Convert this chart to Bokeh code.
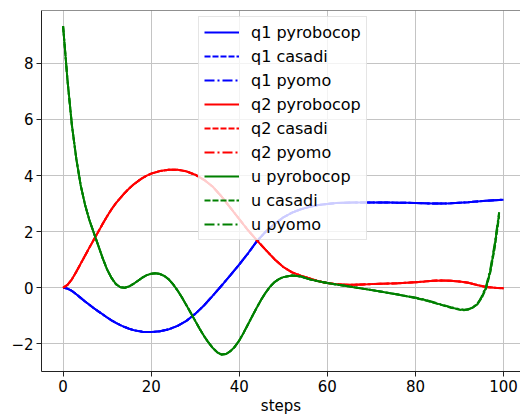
from bokeh.plotting import figure
from bokeh.models import Legend, LegendItem, FixedTicker, Span, Range1d
from bokeh.embed import file_html
from bokeh.resources import INLINE

# ---- data ----
steps_q = list(range(0, 21)) + list(range(22, 101, 2))
steps_u = list(range(0, 51)) + list(range(52, 91, 2)) + list(range(91, 100))

q1_pyrobocop = [0, -0.03, -0.11, -0.23, -0.36, -0.49, -0.61, -0.73, -0.84, -0.95, -1.06,
                -1.16, -1.25, -1.33, -1.40, -1.46, -1.51, -1.54, -1.57, -1.58, -1.58,
                -1.55, -1.48, -1.36, -1.18, -0.93, -0.63, -0.28, 0.08, 0.45, 0.83,
                1.23, 1.66, 2.0, 2.27, 2.51, 2.68, 2.8, 2.89, 2.95, 2.99,
                3.02, 3.03, 3.04, 3.04, 3.04, 3.04, 3.04, 3.03, 3.03, 3.02,
                3.01, 3.0, 3.0, 3.01, 3.03, 3.05, 3.08, 3.1, 3.12, 3.14]
q1_casadi = list(q1_pyrobocop)
q1_pyomo = list(q1_pyrobocop)

q2_pyrobocop = [0, 0.1, 0.3, 0.57, 0.86, 1.15, 1.44, 1.72, 2.0, 2.28, 2.55,
                2.8, 3.02, 3.2, 3.38, 3.54, 3.68, 3.8, 3.91, 4.0, 4.07,
                4.16, 4.21, 4.21, 4.15, 4.03, 3.85, 3.6, 3.25, 2.85, 2.45,
                2.05, 1.69, 1.35, 1.02, 0.74, 0.55, 0.43, 0.33, 0.23, 0.17,
                0.13, 0.11, 0.11, 0.12, 0.13, 0.14, 0.15, 0.16, 0.18, 0.2,
                0.22, 0.25, 0.26, 0.25, 0.22, 0.18, 0.1, 0.03, 0.0, -0.02]
q2_casadi = list(q2_pyrobocop)
q2_pyomo = list(q2_pyrobocop)

u_pyrobocop = [9.33, 7.4, 5.8, 4.6, 3.65, 2.95, 2.4, 1.95, 1.5, 1.05, 0.65,
               0.35, 0.13, 0.02, 0.0, 0.05, 0.14, 0.25, 0.36, 0.45, 0.5,
               0.52, 0.49, 0.42, 0.3, 0.12, -0.1, -0.35, -0.62, -0.9, -1.18,
               -1.46, -1.72, -1.95, -2.15, -2.3, -2.38, -2.36, -2.26, -2.1, -1.88,
               -1.6, -1.3, -1.0, -0.7, -0.42, -0.17, 0.04, 0.2, 0.31, 0.38,
               0.44, 0.4, 0.3, 0.23, 0.17,
               0.12, 0.07, 0.02, -0.03, -0.08, -0.13, -0.19, -0.24, -0.3, -0.36,
               -0.43, -0.52, -0.61, -0.7, -0.77,
               -0.79, -0.77, -0.7, -0.6, -0.35, 0.0, 0.6, 1.5, 2.65]
u_casadi = [9.33, 7.4, 5.8, 4.6, 3.65, 2.95, 2.4, 1.95, 1.5, 1.05, 0.65,
            0.35, 0.13, 0.02, 0.0, 0.05, 0.14, 0.25, 0.36, 0.45, 0.5,
            0.52, 0.49, 0.42, 0.3, 0.12, -0.1, -0.35, -0.62, -0.9, -1.18,
            -1.46, -1.72, -1.95, -2.15, -2.3, -2.38, -2.36, -2.26, -2.1, -1.88,
            -1.6, -1.3, -1.0, -0.7, -0.42, -0.17, 0.04, 0.2, 0.31, 0.38,
            0.44, 0.4, 0.3, 0.23, 0.17,
            0.12, 0.07, 0.02, -0.03, -0.08, -0.13, -0.19, -0.24, -0.3, -0.37,
            -0.44, -0.53, -0.62, -0.71, -0.78,
            -0.8, -0.76, -0.71, -0.57, -0.38, -0.04, 0.55, 1.42, 2.55]
u_pyomo = [9.33, 7.4, 5.8, 4.6, 3.65, 2.95, 2.4, 1.95, 1.5, 1.05, 0.65,
           0.35, 0.13, 0.02, 0.0, 0.05, 0.14, 0.25, 0.36, 0.45, 0.5,
           0.52, 0.49, 0.42, 0.3, 0.12, -0.1, -0.35, -0.62, -0.9, -1.18,
           -1.46, -1.72, -1.95, -2.15, -2.3, -2.38, -2.36, -2.26, -2.1, -1.88,
           -1.6, -1.3, -1.0, -0.7, -0.42, -0.17, 0.04, 0.2, 0.31, 0.38,
           0.44, 0.4, 0.3, 0.23, 0.17,
           0.12, 0.07, 0.02, -0.03, -0.08, -0.13, -0.19, -0.24, -0.3, -0.35,
           -0.42, -0.51, -0.6, -0.69, -0.76,
           -0.78, -0.78, -0.69, -0.62, -0.32, 0.04, 0.66, 1.58, 2.7]

x_ticks = [0, 20, 40, 60, 80, 100]
y_ticks = [-2, 0, 2, 4, 6, 8]
x_label = "steps"

FONT = "DejaVu Sans"

p = figure(width=520, height=417, output_backend="svg", toolbar_location=None,
           x_range=Range1d(-4.9, 103.85), y_range=Range1d(-2.985, 9.885),
           min_border_left=41, min_border_right=0, min_border_top=10,
           min_border_bottom=46)
p.outline_line_color = None
p.background_fill_color = "white"
p.border_fill_color = "white"

for g in (p.xgrid, p.ygrid):
    g.grid_line_color = "#c4c4c4"
    g.grid_line_width = 1

p.xaxis.ticker = FixedTicker(ticks=x_ticks)
p.yaxis.ticker = FixedTicker(ticks=y_ticks)
p.yaxis.major_label_overrides = {t: (("\u2212" + str(abs(t))) if t < 0 else str(t)) for t in y_ticks}
for ax in (p.xaxis, p.yaxis):
    ax.axis_line_color = "#222222"
    ax.axis_line_width = 1
    ax.major_tick_line_color = "#222222"
    ax.major_tick_out = 5
    ax.major_tick_in = 0
    ax.minor_tick_line_color = None
    ax.major_label_text_font = FONT
    ax.major_label_text_font_size = "15px"
    ax.major_label_text_color = "black"
    ax.major_label_standoff = 3
p.xaxis.axis_label = x_label
p.xaxis.axis_label_text_font = FONT
p.xaxis.axis_label_text_font_size = "15px"
p.xaxis.axis_label_text_font_style = "normal"
p.xaxis.axis_label_text_color = "black"
p.xaxis.axis_label_standoff = 2

p.add_layout(Span(location=9.885, dimension="width", line_color="#222222", line_width=1))

series = [
    ("q1 pyrobocop", steps_q, q1_pyrobocop, "#0000ff", "solid"),
    ("q1 casadi", steps_q, q1_casadi, "#0000ff", "6 2"),
    ("q1 pyomo", steps_q, q1_pyomo, "#0000ff", "10 3 2 3"),
    ("q2 pyrobocop", steps_q, q2_pyrobocop, "#ff0000", "solid"),
    ("q2 casadi", steps_q, q2_casadi, "#ff0000", "6 2"),
    ("q2 pyomo", steps_q, q2_pyomo, "#ff0000", "10 3 2 3"),
    ("u pyrobocop", steps_u, u_pyrobocop, "#008000", "solid"),
    ("u casadi", steps_u, u_casadi, "#008000", "6 2"),
    ("u pyomo", steps_u, u_pyomo, "#008000", "10 3 2 3"),
]
items = []
for label, xs, ys, color, dash in series:
    r = p.line(xs, ys, line_color=color, line_width=2, line_dash=dash)
    items.append(LegendItem(label=label, renderers=[r]))

legend = Legend(items=items, location=(157, 131))
legend.label_text_font = FONT
legend.label_text_font_size = "16px"
legend.label_text_color = "black"
legend.glyph_width = 35
legend.glyph_height = 20
legend.label_height = 20
legend.label_standoff = 12
legend.spacing = 4
legend.padding = 5
legend.margin = 0
legend.border_line_color = "#cccccc"
legend.border_line_width = 1
legend.background_fill_color = "white"
legend.background_fill_alpha = 0.8
p.add_layout(legend)

open("out.html", "w").write(file_html(p, INLINE))
